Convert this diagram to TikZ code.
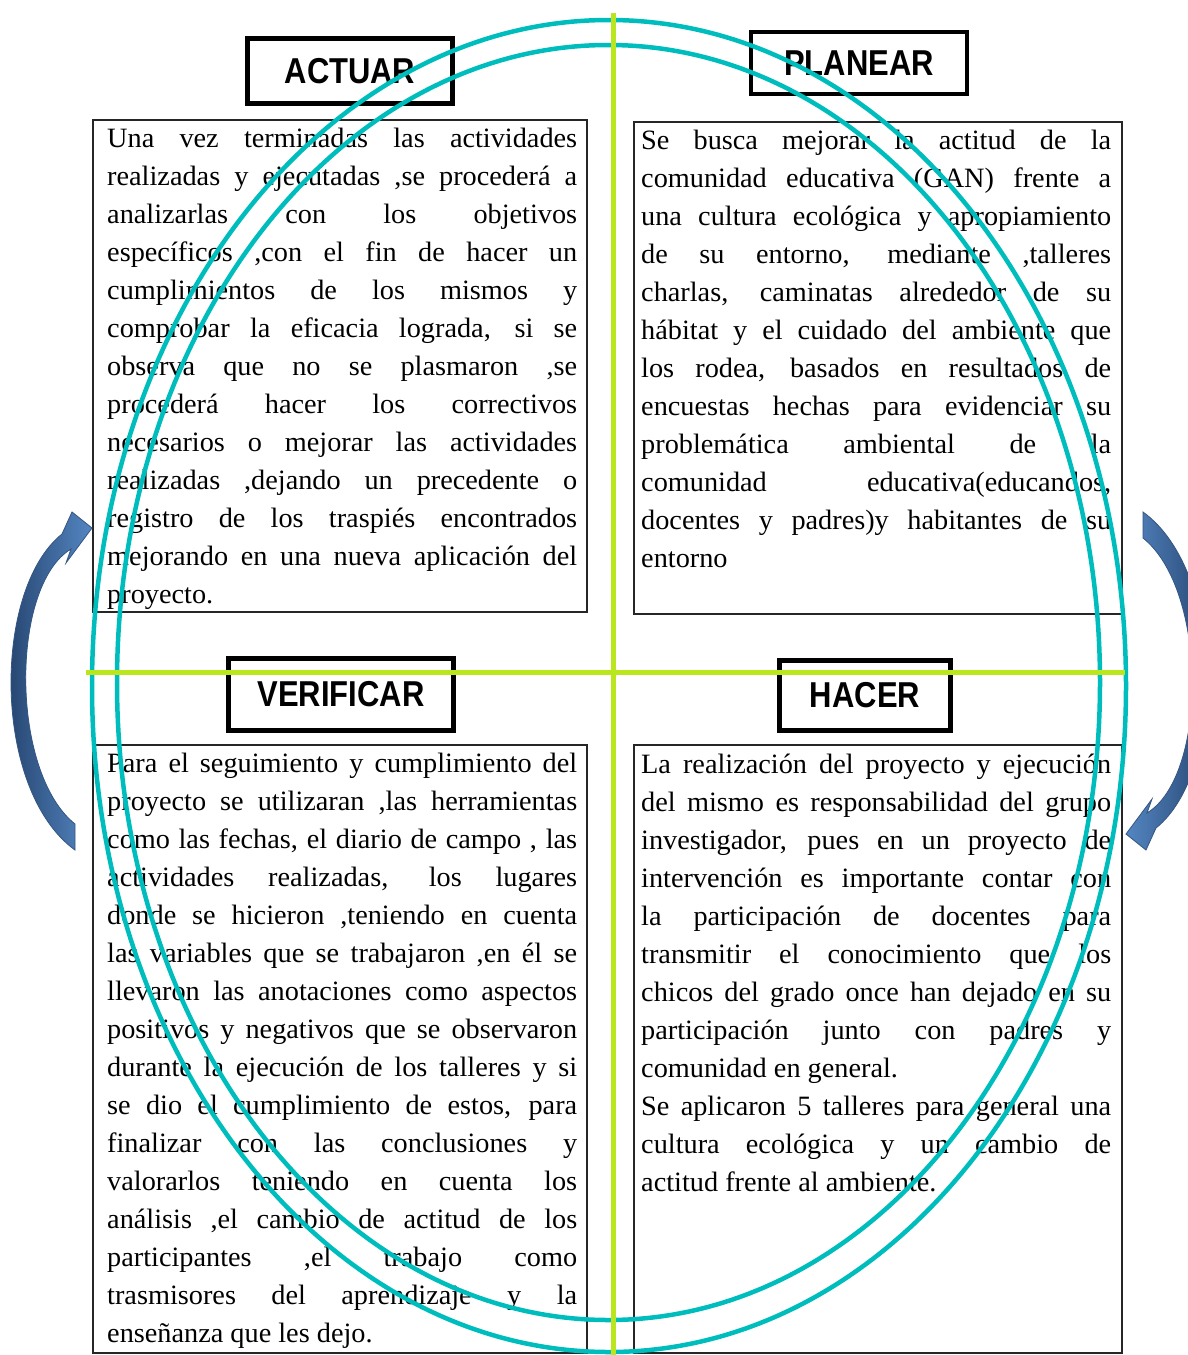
\documentclass[tikz,border=0pt]{standalone}
\usepackage{fontspec}
\setmainfont{Liberation Serif}[FakeStretch=1.01]
\newfontfamily\etiqfont{Liberation Sans}[FakeStretch=0.86]
\definecolor{cian}{RGB}{0,189,189}
\definecolor{verdelima}{RGB}{186,230,30}
\definecolor{azulclaro}{RGB}{84,134,194}
\definecolor{azuloscuro}{RGB}{30,58,98}
\definecolor{azulborde}{RGB}{52,86,130}
\hyphenpenalty=10000
\tolerance=10000

\begin{document}
\begin{tikzpicture}[x=1pt, y=-1pt,
    etiqueta/.style={draw=black, line width=4.5pt, fill=white, inner sep=0pt,
        font=\etiqfont\bfseries\fontsize{36}{36}\selectfont},
    cuadro/.style={draw=black!85, line width=1.2pt},
    texto/.style={anchor=north west, inner sep=0pt, text width=470pt,
        align=justify, font=\fontsize{28}{38}\selectfont},
    ciclo/.style={draw=cian, line width=4.5pt},
    eje/.style={draw=verdelima, line width=5pt},
    flecha/.style={draw=azulborde, line width=0.8pt}]

    \useasboundingbox (0,0) rectangle (1187,1355);

    % Text frames
    \draw[cuadro] (93,120) rectangle (587,612);
    \draw[cuadro] (634,122) rectangle (1122,614);
    \draw[cuadro] (93,745) rectangle (587,1353);
    \draw[cuadro] (634,745) rectangle (1122,1353);

    % Texts
    \node[texto] (txtactuar) at (107,120.5) {\strut Una vez terminadas las actividades\linebreak
        realizadas y ejecutadas ,se procederá a\linebreak
        analizarlas con los objetivos\linebreak
        específicos ,con el fin de hacer un\linebreak
        cumplimientos de los mismos y\linebreak
        comprobar la eficacia lograda, si se\linebreak
        observa que no se plasmaron ,se\linebreak
        procederá hacer los correctivos\linebreak
        necesarios o mejorar las actividades\linebreak
        realizadas ,dejando un precedente o\linebreak
        registro de los traspiés encontrados\linebreak
        mejorando en una nueva aplicación del\linebreak
        proyecto.};
    \node[texto] (txtplanear) at (641,122.5) {\strut Se busca mejorar la actitud de la\linebreak
        comunidad educativa (GAN) frente a\linebreak
        una cultura ecológica y apropiamiento\linebreak
        de su entorno, mediante ,talleres\linebreak
        charlas, caminatas alrededor de su\linebreak
        hábitat y el cuidado del ambiente que\linebreak
        los rodea, basados en resultados de\linebreak
        encuestas hechas para evidenciar su\linebreak
        problemática ambiental de la\linebreak
        comunidad educativa(educandos,\linebreak
        docentes y padres)y habitantes de su\linebreak
        entorno};
    \node[texto] (txtverificar) at (107,745.5) {\strut Para el seguimiento y cumplimiento del\linebreak
        proyecto se utilizaran ,las herramientas\linebreak
        como las fechas, el diario de campo , las\linebreak
        actividades realizadas, los lugares\linebreak
        donde se hicieron ,teniendo en cuenta\linebreak
        las variables que se trabajaron ,en él se\linebreak
        llevaron las anotaciones como aspectos\linebreak
        positivos y negativos que se observaron\linebreak
        durante la ejecución de los talleres y si\linebreak
        se dio el cumplimiento de estos, para\linebreak
        finalizar con las conclusiones y\linebreak
        valorarlos teniendo en cuenta los\linebreak
        análisis ,el cambio de actitud de los\linebreak
        participantes ,el trabajo como\linebreak
        trasmisores del aprendizaje y la\linebreak
        enseñanza que les dejo.};
    \node[texto] (txthacer) at (641,746.5) {\strut La realización del proyecto y ejecución\linebreak
        del mismo es responsabilidad del grupo\linebreak
        investigador, pues en un proyecto de\linebreak
        intervención es importante contar con\linebreak
        la participación de docentes para\linebreak
        transmitir el conocimiento que los\linebreak
        chicos del grado once han dejado en su\linebreak
        participación junto con padres y\linebreak
        comunidad en general.\\
        Se aplicaron 5 talleres para general una\linebreak
        cultura ecológica y un cambio de\linebreak
        actitud frente al ambiente.};

    % Labels
    \node[etiqueta, minimum width=205pt, minimum height=65pt] (actuar) at (350,71) {ACTUAR};
    \node[etiqueta, minimum width=216pt, minimum height=62pt] (planear) at (859,63) {PLANEAR};
    \node[etiqueta, minimum width=225pt, minimum height=72pt] (verificar) at (341,694.5) {VERIFICAR};
    \node[etiqueta, minimum width=171pt, minimum height=70pt] (hacer) at (865,695.5) {HACER};

    % Cycle ellipses
    \draw[ciclo] (609,686) ellipse [x radius=517pt, y radius=666pt];
    \draw[ciclo] (608.5,682.5) ellipse [x radius=491.5pt, y radius=637.5pt];

    % Axes
    \draw[eje] (613,13) -- (613,1355);
    \draw[eje] (86,672) -- (1125,672);

    % Curved arrows
    \path[flecha, left color=azuloscuro, right color=azulclaro]
        (75,850) .. controls (-8,790) and (-8,590) .. (62,534) -- (72,512) -- (92,528)
        -- (66,563) -- (71,549) .. controls (10,586) and (10,772) .. (75,824) -- cycle;
    \path[flecha, left color=azulclaro, right color=azuloscuro]
        (1143,512) .. controls (1226,572) and (1226,772) .. (1156,828) -- (1146,850) -- (1126,834)
        -- (1152,799) -- (1147,813) .. controls (1208,776) and (1208,590) .. (1143,538) -- cycle;
\end{tikzpicture}
\end{document}
